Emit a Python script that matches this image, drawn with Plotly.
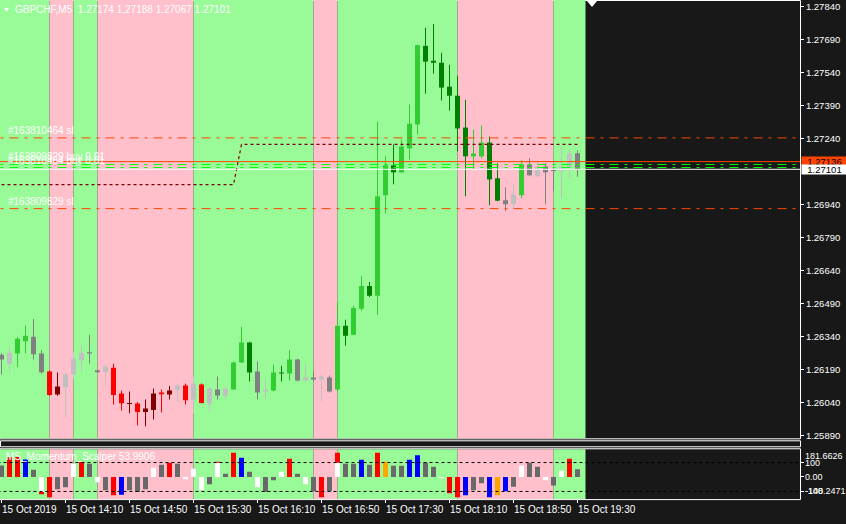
import plotly.graph_objects as go

# ---------------- data ----------------
symbol = "GBPCHF,M5"
header_ohlc = [1.27174, 1.27188, 1.27067, 1.27101]

opens = [1.26257, 1.26216, 1.26262, 1.26318, 1.26339, 1.26262, 1.26180, 1.26076, 1.26109, 1.26168,
         1.26231, 1.26268, 1.26186, 1.26177, 1.26198, 1.26080, 1.26032, 1.26035, 1.25996, 1.26005,
         1.26085, 1.26076, 1.26095, 1.26117, 1.26053, 1.26121, 1.26035, 1.26099, 1.26071, 1.26099,
         1.26221, 1.26312, 1.26180, 1.26089, 1.26094, 1.26176, 1.26171, 1.26235, 1.26139, 1.26153,
         1.26144, 1.26153, 1.26099, 1.26389, 1.26348, 1.26466, 1.26570, 1.26525, 1.26983, 1.27119,
         1.27087, 1.27196, 1.27305, 1.27663, 1.27595, 1.27586, 1.27477, 1.27436, 1.27291, 1.27160,
         1.27160, 1.27223, 1.27060, 1.26960, 1.26942, 1.26983, 1.27123, 1.27069, 1.27114, 1.27098,
         1.27092, 1.27110, 1.27174]
highs = [1.26265, 1.26284, 1.26337, 1.26390, 1.26420, 1.26277, 1.26186, 1.26176, 1.26179, 1.26270,
         1.26299, 1.26348, 1.26189, 1.26212, 1.26216, 1.26094, 1.26089, 1.26040, 1.26053, 1.26103,
         1.26099, 1.26115, 1.26126, 1.26126, 1.26158, 1.26126, 1.26108, 1.26158, 1.26108, 1.26226,
         1.26384, 1.26316, 1.26226, 1.26139, 1.26212, 1.26207, 1.26280, 1.26239, 1.26216, 1.26180,
         1.26167, 1.26162, 1.26498, 1.26416, 1.26480, 1.26616, 1.26588, 1.27318, 1.27160, 1.27214,
         1.27237, 1.27396, 1.27668, 1.27745, 1.27763, 1.27631, 1.27577, 1.27527, 1.27418, 1.27282,
         1.27300, 1.27250, 1.27128, 1.27019, 1.27037, 1.27142, 1.27151, 1.27142, 1.27128, 1.27105,
         1.27205, 1.27191, 1.27188]
lows = [1.26167, 1.26181, 1.26201, 1.26262, 1.26235, 1.26171, 1.26070, 1.26070, 1.25970, 1.26145,
        1.26181, 1.26216, 1.26176, 1.26112, 1.26030, 1.26003, 1.25990, 1.25935, 1.25931, 1.25962,
        1.25994, 1.26053, 1.26040, 1.26030, 1.25990, 1.26035, 1.25999, 1.26053, 1.26053, 1.26097,
        1.26219, 1.26135, 1.26053, 1.26058, 1.26089, 1.26135, 1.26139, 1.26135, 1.26135, 1.26135,
        1.26044, 1.26085, 1.26089, 1.26298, 1.26346, 1.26457, 1.26520, 1.26439, 1.26901, 1.27033,
        1.27085, 1.27146, 1.27259, 1.27445, 1.27536, 1.27414, 1.27368, 1.27182, 1.26978, 1.27101,
        1.27151, 1.26937, 1.26956, 1.26910, 1.26924, 1.26969, 1.27069, 1.27064, 1.26942, 1.27001,
        1.26969, 1.27060, 1.27067]
closes = [1.26235, 1.26266, 1.26330, 1.26343, 1.26259, 1.26177, 1.26073, 1.26112, 1.26167, 1.26239,
          1.26266, 1.26263, 1.26177, 1.26203, 1.26073, 1.26036, 1.26036, 1.25996, 1.26012, 1.26080,
          1.26077, 1.26094, 1.26117, 1.26050, 1.26126, 1.26037, 1.26103, 1.26071, 1.26103, 1.26221,
          1.26312, 1.26176, 1.26085, 1.26099, 1.26176, 1.26171, 1.26235, 1.26139, 1.26153, 1.26144,
          1.26158, 1.26089, 1.26389, 1.26343, 1.26470, 1.26570, 1.26525, 1.26978, 1.27119, 1.27087,
          1.27205, 1.27309, 1.27666, 1.27591, 1.27586, 1.27473, 1.27436, 1.27287, 1.27160, 1.27173,
          1.27223, 1.27055, 1.26958, 1.26942, 1.26987, 1.27123, 1.27074, 1.27114, 1.27087, 1.27093,
          1.27114, 1.27173, 1.27101]
candle_kind = ["gray", "silver", "lime", "lime", "gray", "gray", "red", "maroon", "silver", "silver",
               "silver", "gray", "gray", "silver", "red", "red", "maroon", "red", "maroon", "maroon",
               "red", "maroon", "silver", "red", "silver", "red", "silver", "gray", "silver", "lime",
               "lime", "dgreen", "gray", "silver", "lime", "dgreen", "lime", "gray", "silver", "gray",
               "silver", "gray", "lime", "dgreen", "lime", "lime", "dgreen", "lime", "lime", "dgreen",
               "lime", "lime", "lime", "dgreen", "dgreen", "dgreen", "dgreen", "dgreen", "dgreen", "lime",
               "lime", "dgreen", "dgreen", "gray", "silver", "lime", "gray", "silver", "gray", "gray",
               "silver", "silver", "gray"]

time_tick_bars = [0, 8, 16, 24, 32, 40, 48, 56, 64, 72]
time_tick_labels = ["15 Oct 2019", "15 Oct 14:10", "15 Oct 14:50", "15 Oct 15:30", "15 Oct 16:10",
                    "15 Oct 16:50", "15 Oct 17:30", "15 Oct 18:10", "15 Oct 18:50", "15 Oct 19:30"]

price_tick_vals = [1.27840, 1.27690, 1.27540, 1.27390, 1.27240, 1.26940, 1.26790,
                   1.26640, 1.26490, 1.26340, 1.26190, 1.26040, 1.25890]
price_tick_text = ["1.27840", "1.27690", "1.27540", "1.27390", "1.27240", "1.26940", "1.26790",
                   "1.26640", "1.26490", "1.26340", "1.26190", "1.26040", "1.25890"]

# session shading (bar index edges) and kinds
band_edges = [-2, 6, 9, 12, 24, 39, 42, 57, 69, 73]
band_kinds = ["green", "pink", "green", "pink", "green", "pink", "green", "pink", "green"]

ask_price = 1.27136
bid_price = 1.27101
order_open = [1.27123, 1.27109]
order_labels = ["#163809829 buy 0.01", "#163810464 buy 0.01"]
sl_levels = [1.27244, 1.26922]
sl_labels = ["#163810464 sl", "#163809829 sl"]
trail_x = [0, 29, 30, 72]
trail_y = [1.27031, 1.27031, 1.27214, 1.27214]

momentum = [80, 138, 138, 122, 51, -103, -140, -85, -71, 92,
            106, 92, -37, -92, -126, -122, -92, -103, -85, 64,
            85, 99, 92, -16, 57, -92, -51, 99, 23, 168,
            133, 37, -71, -103, -23, 37, 126, 23, -51, -99,
            -140, -99, 99, 92, 92, 120, 85, 168, 106, 78,
            78, 120, 150, 99, 71, -9, -113, -140, -126, -92,
            -44, -140, -126, -99, -67, 78, 99, 71, -23, -58,
            44, 126, 53.9906]
momentum_kind = ["gray", "red", "red", "blue", "gray", "white", "red", "gray", "gray", "white",
                 "red", "gray", "white", "gray", "red", "blue", "gray", "gray", "gray", "white",
                 "gray", "red", "gray", "white", "white", "white", "gray", "white", "gray", "red",
                 "blue", "gray", "white", "gray", "gray", "white", "red", "gray", "white", "gray",
                 "red", "gray", "white", "gray", "gray", "blue", "gray", "red", "orange", "gray",
                 "gray", "blue", "blue", "gray", "gray", "white", "red", "red", "blue", "gray",
                 "gray", "blue", "orange", "blue", "gray", "white", "gray", "gray", "white", "gray",
                 "white", "red", "gray"]
momentum_under_bars = [5, 27, 42]
momentum_under_vals = [-120, 106, 168]
mom_levels = [100, -100]
mom_name = "MS_Momentum_Scalper"
mom_max, mom_min = 181.6626, -148.2471

# ---------------- styling / layout ----------------
W, H = 846, 524
def fx(px): return px / W
def fy(py): return 1 - py / H

BG = "#181818"
FONT = "Liberation Sans, Arial, sans-serif"
FS = 10
FS_AX = 9.5
FS_IND = 9
CCOL = {"gray": "#808080", "silver": "#C0C0C0", "lime": "#32CD32", "dgreen": "#008000",
        "red": "#FF0000", "maroon": "#800000"}
HCOL = {"gray": "#696969", "white": "#FFFFFF", "red": "#FF0000", "blue": "#0000FF", "orange": "#FFA500"}
BCOL = {"green": "#98FB98", "pink": "#FFC0CB"}
DASHDOT = "9px,6px,3px,6px"

price_lo, price_hi = 1.258763, 1.278717
onepx = (price_hi - price_lo) / 440
xr = [-0.1875, 99.8125]

n = len(opens)
idx = list(range(n))

fig = go.Figure()

# candles: wicks then bodies
fig.add_trace(go.Bar(
    x=idx, y=[h - l for h, l in zip(highs, lows)], base=lows, width=0.125,
    marker=dict(color=[CCOL[k] for k in candle_kind], line=dict(width=0)),
    hoverinfo="skip", xaxis="x", yaxis="y"))
fig.add_trace(go.Bar(
    x=idx, y=[max(abs(c - o), onepx) for o, c in zip(opens, closes)],
    base=[min(o, c) for o, c in zip(opens, closes)], width=0.625,
    marker=dict(color=[CCOL[k] for k in candle_kind], line=dict(width=0)),
    hoverinfo="skip", xaxis="x", yaxis="y"))

def hline(level, color, dash, width=1, ax=("x", "y")):
    fig.add_trace(go.Scatter(x=[-2, 102], y=[level, level], mode="lines",
                             line=dict(color=color, width=width, dash=dash),
                             hoverinfo="skip", xaxis=ax[0], yaxis=ax[1]))

# object lines
for lv in sl_levels:
    hline(lv, "#FF4500", DASHDOT)
fig.add_trace(go.Scatter(x=trail_x, y=trail_y, mode="lines",
                         line=dict(color="#7A0000", width=1.2, dash="3px,3px"),
                         hoverinfo="skip", xaxis="x", yaxis="y"))
for lv in order_open:
    hline(lv, "#00FF00", DASHDOT)
hline(ask_price, "#FF4500", "solid")
hline(bid_price, "#FFFFFF", "solid")

# momentum histogram
fig.add_trace(go.Bar(x=momentum_under_bars, y=momentum_under_vals, width=0.625,
                     marker=dict(color="#FF0000", line=dict(width=0)),
                     hoverinfo="skip", xaxis="x2", yaxis="y2"))
fig.add_trace(go.Bar(x=idx, y=momentum, width=0.625,
                     marker=dict(color=[HCOL[k] for k in momentum_kind], line=dict(width=0)),
                     hoverinfo="skip", xaxis="x2", yaxis="y2"))
for lv in mom_levels:
    hline(lv, "#000000", "3px,3px", ax=("x2", "y2"))

shapes = []
# frames (paper, drawn under shading)
for (x0, y0, x1, y1) in [(0, 0.5, 800.5, 440.5), (0.5, 442.5, 800.5, 448.5), (0, 450.5, 800.5, 501.5)]:
    shapes.append(dict(type="rect", xref="paper", yref="paper", x0=fx(x0), x1=fx(x1),
                       y0=fy(y1), y1=fy(y0), line=dict(color="#FFFFFF", width=1),
                       fillcolor="rgba(0,0,0,0)", layer="below"))
for xa, ya in [("x", "y domain"), ("x2", "y2 domain")]:
    for k, kind in enumerate(band_kinds):
        shapes.append(dict(type="rect", xref=xa, yref=ya, x0=band_edges[k], x1=band_edges[k + 1],
                           y0=0, y1=1, fillcolor=BCOL[kind], line=dict(width=0), layer="below"))
# small triangles (header and chart-shift marker)
shapes.append(dict(type="path", xref="paper", yref="paper",
                   path=f"M {fx(4)},{fy(8)} L {fx(9)},{fy(8)} L {fx(6.5)},{fy(11.5)} Z",
                   fillcolor="#FFFFFF", line=dict(width=0), layer="above"))
shapes.append(dict(type="path", xref="paper", yref="paper",
                   path=f"M {fx(587)},{fy(1)} L {fx(597)},{fy(1)} L {fx(592)},{fy(7)} Z",
                   fillcolor="#FFFFFF", line=dict(width=0), layer="above"))

ann = []
def txt(text, x, y, xref="paper", yref="paper", xanchor="left", yanchor="middle", color="#FFFFFF",
        size=FS, **kw):
    ann.append(dict(text=text, x=x, y=y, xref=xref, yref=yref, xanchor=xanchor, yanchor=yanchor,
                    showarrow=False, font=dict(family=FONT, size=size, color=color), **kw))

nb = "\u00a0"
txt(symbol + nb + nb + " ".join(f"{v:.5f}" for v in header_ohlc), fx(13), fy(9.5))
for lv, lab in zip(sl_levels, sl_labels):
    txt(lab, fx(6), lv, yref="y", yanchor="bottom")
for lv, lab in zip(order_open, order_labels):
    txt(lab, fx(6), lv, yref="y", yanchor="bottom")
# price boxes on the axis
ann.append(dict(text=f"{ask_price:.5f}", x=fx(801), y=ask_price, xref="paper", yref="y",
                xanchor="left", yanchor="middle", showarrow=False, width=45, height=9, align="center",
                bgcolor="#FF4500", borderpad=0, font=dict(family=FONT, size=FS_AX, color="#000000")))
ann.append(dict(text=f"{bid_price:.5f}", x=fx(801), y=bid_price, xref="paper", yref="y",
                xanchor="left", yanchor="middle", showarrow=False, width=45, height=9, align="center",
                bgcolor="#FFFFFF", borderpad=0, font=dict(family=FONT, size=FS_AX, color="#000000")))
# indicator texts
txt(f"{mom_name} {momentum[-1]:.4f}", fx(4), fy(458.5))
txt(f"{mom_max:.4f}", fx(803), fy(457.5), size=FS_IND)
txt("100", fx(803), 100, yref="y2", size=FS_IND)
txt("0.00", fx(803), 0, yref="y2", size=FS_IND)
txt("-100", fx(803), -100, yref="y2", size=FS_IND)
txt(f"{mom_min:.4f}", fx(803), -100, yref="y2", size=FS_IND)
# time labels
for b, lab in zip(time_tick_bars, time_tick_labels):
    txt(lab, b, fy(511), xref="x2", xshift=-2)

fig.update_layout(
    width=W, height=H, margin=dict(l=0, r=0, t=0, b=0),
    paper_bgcolor=BG, plot_bgcolor="rgba(0,0,0,0)",
    barmode="overlay", showlegend=False, hovermode=False,
    font=dict(family=FONT, size=FS, color="#FFFFFF"),
    shapes=shapes, annotations=ann,
    xaxis=dict(domain=[0, fx(800)], range=xr, anchor="y", showticklabels=False, ticks="",
               showgrid=False, zeroline=False, showline=False),
    yaxis=dict(domain=[fy(440), 1], range=[price_lo, price_hi], anchor="x", side="right",
               tickmode="array", tickvals=price_tick_vals, ticktext=price_tick_text,
               ticks="outside", ticklen=3, tickcolor="#FFFFFF", tickwidth=1,
               tickfont=dict(family=FONT, size=FS_AX, color="#FFFFFF"),
               showgrid=False, zeroline=False, showline=False),
    xaxis2=dict(domain=[0, fx(800)], range=xr, anchor="y2", showticklabels=False,
                tickmode="array", tickvals=time_tick_bars, ticks="outside", ticklen=3,
                tickcolor="#FFFFFF", tickwidth=1, showgrid=False, zeroline=False, showline=False),
    yaxis2=dict(domain=[fy(501), fy(451)], range=[-152.9, 191.9], anchor="x2", side="right",
                tickmode="array", tickvals=mom_levels + [0], showticklabels=False,
                ticks="outside", ticklen=3, tickcolor="#FFFFFF", tickwidth=1,
                showgrid=False, zeroline=False, showline=False),
)

fig.write_html("out.html", config={"displayModeBar": False, "staticPlot": True},
               post_script="document.body.style.margin='0';document.body.style.overflow='hidden';")
